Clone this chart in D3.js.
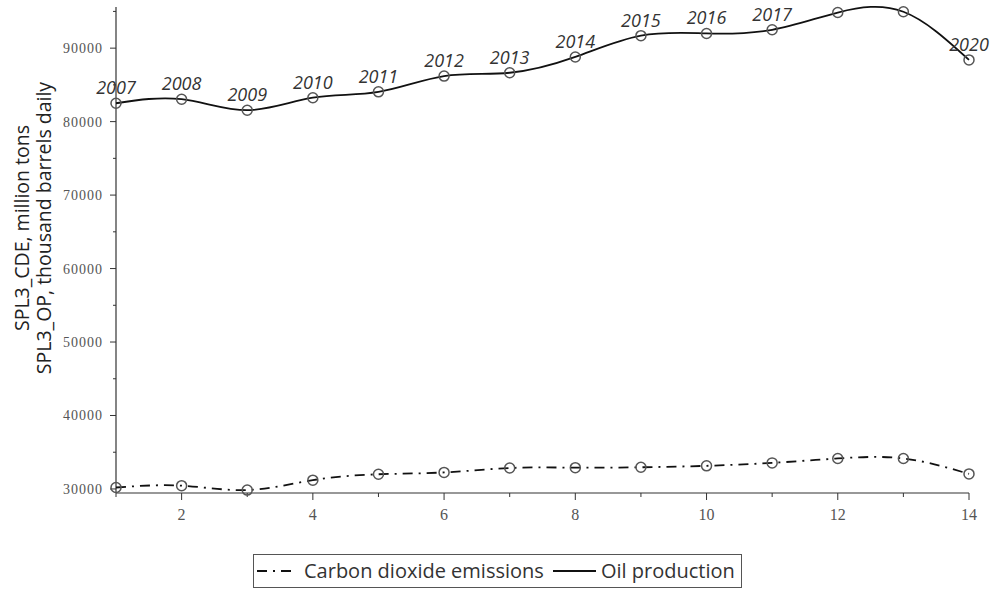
<!DOCTYPE html>
<meta charset="utf-8">
<head>
  <title>Oil production and CO2</title>
  <style>
    body { margin: 0; background: #fff; }
    svg { display: block; }
  </style>
  <script src="https://d3js.org/d3.v7.min.js"></script>
</head>
<body>
  <svg width="996" height="589"></svg>
  <script>
    // data
    var idx = [1, 2, 3, 4, 5, 6, 7, 8, 9, 10, 11, 12, 13, 14];
    var years = ['2007', '2008', '2009', '2010', '2011', '2012', '2013',
      '2014', '2015', '2016', '2017', '2018', '2019', '2020'];
    var labeledYears = ['2007', '2008', '2009', '2010', '2011', '2012', '2013',
      '2014', '2015', '2016', '2017', '2020'];
    var oil = [82500, 83050, 81550, 83250, 84050, 86200, 86650,
      88800, 91700, 92000, 92500, 94850, 94950, 88400];
    var co2 = [30200, 30450, 29850, 31200, 32000, 32250, 32850,
      32900, 32950, 33150, 33550, 34150, 34150, 32050];
    var yMajor = [30000, 40000, 50000, 60000, 70000, 80000, 90000];
    var yMinor = [35000, 45000, 55000, 65000, 75000, 85000, 95000];
    var xMajor = [2, 4, 6, 8, 10, 12, 14];
    var xMinor = [1, 3, 5, 7, 9, 11, 13];
    var seriesNames = ['Carbon dioxide emissions', 'Oil production'];

    var svg = d3.select('svg');

    var x = d3.scaleLinear().domain([1, 14]).range([116, 969]);
    var y = d3.scaleLinear().domain([29450, 95600]).range([493, 7]);

    var serif = '"Liberation Serif", "DejaVu Serif", serif';
    var sans = '"Open Sans", "Noto Sans", sans-serif';

    // y axis
    var yAxis = svg.append('g').attr('transform', 'translate(' + x(1) + ',0)');
    yAxis.append('line')
      .attr('y1', y.range()[0]).attr('y2', y.range()[1])
      .attr('stroke', '#333').attr('stroke-width', 1.2);
    yAxis.selectAll('.maj').data(yMajor).enter().append('line')
      .attr('x1', -6).attr('x2', 0)
      .attr('y1', d => y(d)).attr('y2', d => y(d))
      .attr('stroke', '#333');
    yAxis.selectAll('.min').data(yMinor).enter().append('line')
      .attr('x1', -3).attr('x2', 0)
      .attr('y1', d => y(d)).attr('y2', d => y(d))
      .attr('stroke', '#333');
    yAxis.selectAll('text').data(yMajor).enter().append('text')
      .attr('x', -13).attr('y', d => y(d) + 5)
      .attr('text-anchor', 'end')
      .style('font-family', serif).style('font-size', '14px')
      .style('letter-spacing', '1px')
      .attr('fill', '#555')
      .text(d => d);

    // x axis
    var xAxis = svg.append('g').attr('transform', 'translate(0,' + y.range()[0] + ')');
    xAxis.append('line')
      .attr('x1', x(1)).attr('x2', x(14))
      .attr('stroke', '#333').attr('stroke-width', 1.2);
    xAxis.selectAll('.maj').data(xMajor).enter().append('line')
      .attr('x1', d => x(d)).attr('x2', d => x(d))
      .attr('y1', 0).attr('y2', 7)
      .attr('stroke', '#333');
    xAxis.selectAll('.min').data(xMinor).enter().append('line')
      .attr('x1', d => x(d)).attr('x2', d => x(d))
      .attr('y1', 0).attr('y2', 4)
      .attr('stroke', '#333');
    xAxis.selectAll('text').data(xMajor).enter().append('text')
      .attr('x', d => x(d)).attr('y', 27)
      .attr('text-anchor', 'middle')
      .style('font-family', serif).style('font-size', '16px')
      .attr('fill', '#555')
      .text(d => d);

    // y title (two lines)
    var title = svg.append('text')
      .attr('transform', 'translate(29,228) rotate(-90)')
      .attr('text-anchor', 'middle')
      .style('font-family', sans).style('font-size', '19.5px')
      .attr('fill', '#222');
    title.append('tspan').attr('x', 0).attr('dy', 0).text('SPL3_CDE, million tons');
    title.append('tspan').attr('x', 0).attr('dy', 22).text('SPL3_OP, thousand barrels daily');

    // lines
    var line = d3.line()
      .x((d, i) => x(idx[i]))
      .y(d => y(d))
      .curve(d3.curveNatural);

    svg.append('path').datum(co2)
      .attr('d', line)
      .attr('fill', 'none')
      .attr('stroke', '#111')
      .attr('stroke-width', 1.8)
      .attr('stroke-dasharray', '10,6,2,6');

    svg.append('path').datum(oil)
      .attr('d', line)
      .attr('fill', 'none')
      .attr('stroke', '#111')
      .attr('stroke-width', 1.8);

    // point markers
    [co2, oil].forEach(function (s) {
      svg.append('g').selectAll('circle').data(s).enter().append('circle')
        .attr('cx', (d, i) => x(idx[i]))
        .attr('cy', d => y(d))
        .attr('r', 5)
        .attr('fill', 'none')
        .attr('stroke', '#555')
        .attr('stroke-width', 1.5);
    });

    // year labels on oil line
    svg.append('g').selectAll('text')
      .data(idx.filter((d, i) => labeledYears.indexOf(years[i]) >= 0))
      .enter().append('text')
      .attr('x', d => x(d))
      .attr('y', d => y(oil[d - 1]) - 9)
      .attr('text-anchor', 'middle')
      .style('font-family', sans).style('font-size', '18px')
      .style('font-style', 'italic')
      .attr('fill', '#333')
      .text(d => years[d - 1]);

    // legend
    var lg = svg.append('g');
    lg.append('rect')
      .attr('x', 253.5).attr('y', 554.5)
      .attr('width', 488).attr('height', 33)
      .attr('fill', 'none').attr('stroke', '#555');
    lg.append('line')
      .attr('x1', 257).attr('x2', 296).attr('y1', 571).attr('y2', 571)
      .attr('stroke', '#111').attr('stroke-width', 1.8)
      .attr('stroke-dasharray', '10,6,2,6');
    lg.append('text')
      .attr('x', 304).attr('y', 578)
      .style('font-family', sans).style('font-size', '20px')
      .attr('fill', '#333')
      .text(seriesNames[0]);
    lg.append('line')
      .attr('x1', 553).attr('x2', 596).attr('y1', 571).attr('y2', 571)
      .attr('stroke', '#111').attr('stroke-width', 1.8);
    lg.append('text')
      .attr('x', 601).attr('y', 578)
      .style('font-family', sans).style('font-size', '20px')
      .attr('fill', '#333')
      .text(seriesNames[1]);
  </script>
</body>
